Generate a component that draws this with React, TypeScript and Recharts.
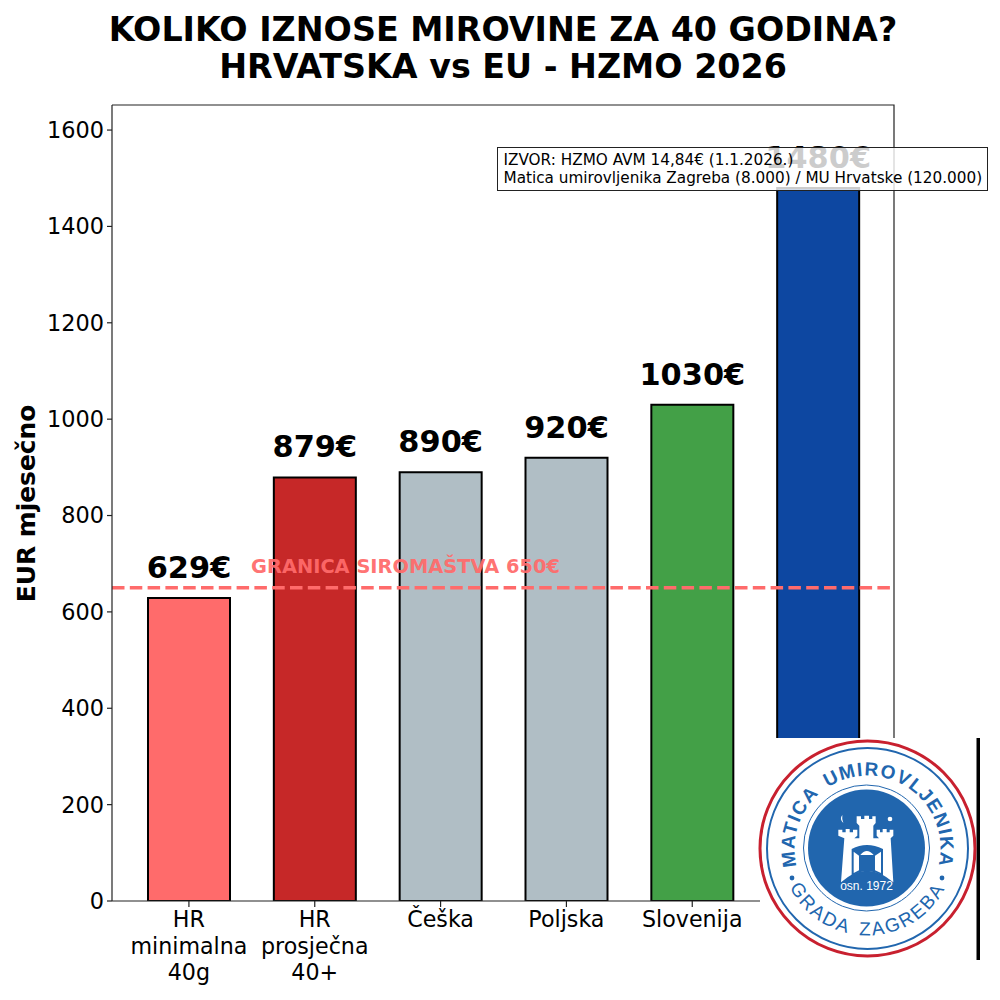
import React from 'react';
import { BarChart, Bar, XAxis, YAxis, Cell, LabelList, ReferenceLine } from 'recharts';

const categories = ['HR\nminimalna\n40g', 'HR\nprosječna\n40+', 'Češka', 'Poljska', 'Slovenija', ''];
const values = [629, 879, 890, 920, 1030, 1480];
const colors = ['#ff6b6b', '#c62828', '#b0bec5', '#b0bec5', '#43a047', '#0d47a1'];
const yTicks = [0, 200, 400, 600, 800, 1000, 1200, 1400, 1600];
const povertyLine = 650;
const povertyLabel = 'GRANICA SIROMAŠTVA 650€';
const titleLines = ['KOLIKO IZNOSE MIROVINE ZA 40 GODINA?', 'HRVATSKA vs EU - HZMO 2026'];
const sourceLines = ['IZVOR: HZMO AVM 14,84€ (1.1.2026.)', 'Matica umirovljenika Zagreba (8.000) / MU Hrvatske (120.000)'];
const data = categories.map((name, i) => ({ name, value: values[i] }));

const FONT = '"DejaVu Sans", sans-serif';
const LOGO_FONT = '"Liberation Sans", sans-serif';
const BLUE = '#2166ae';

const CategoryTick = (props: any) => {
  const { x, y, payload } = props;
  const lines = String(payload.value).split('\n');
  return (
    <g>
      <line x1={x} x2={x} y1={y - 8} y2={y - 2} stroke="#222" strokeWidth={1.2} />
      <text x={x} textAnchor="middle" fontFamily={FONT} fontSize={22.2} fill="#000">
        {lines.map((l: string, i: number) => (
          <tspan key={i} x={x} y={y + 18 + i * 26.5}>{l}</tspan>
        ))}
      </text>
    </g>
  );
};

const Logo = () => {
  const cx = 867.5;
  const cy = 848.5;
  return (
    <g>
      <rect x={760} y={738} width={217} height={222} fill="#fff" />
      <rect x={976.5} y={738} width={3.5} height={222} fill="#000" />
      <circle cx={cx} cy={cy} r={107.5} fill="#fff" stroke="#c8202f" strokeWidth={3} />
      <circle cx={cx} cy={cy} r={100.5} fill="none" stroke={BLUE} strokeWidth={2} />
      <circle cx={cx - 1} cy={cy - 0.5} r={63} fill="none" stroke={BLUE} strokeWidth={1} />
      <circle cx={cx - 1} cy={cy - 0.5} r={58.5} fill={BLUE} />
      <defs>
        <path id="logoTop" d={`M ${cx - 56} ${cy + 47} A 73 73 0 1 1 ${cx + 56} ${cy + 47}`} />
        <path id="logoBottom" d={`M ${cx - 83} ${cy + 26} A 87 87 0 0 0 ${cx + 83} ${cy + 26}`} />
      </defs>
      <text fontFamily={LOGO_FONT} fontWeight="bold" fontSize={19} fill={BLUE} letterSpacing={1.3} wordSpacing={4} textAnchor="middle">
        <textPath href="#logoTop" startOffset="50%">MATICA UMIROVLJENIKA</textPath>
      </text>
      <text fontFamily={LOGO_FONT} fontSize={19} fill={BLUE} letterSpacing={2} wordSpacing={4} textAnchor="middle">
        <textPath href="#logoBottom" startOffset="50%">GRADA ZAGREBA</textPath>
      </text>
      <circle cx={792} cy={878} r={2.4} fill={BLUE} />
      <circle cx={942} cy={878} r={2.4} fill={BLUE} />
      <g transform="translate(825,805) scale(0.3333)" fill="#fff">
        <path d="M95 34 L108 34 L108 42 L118 42 L118 32 L132 32 L132 42 L142 42 L142 34 L152 34 L152 54 L145 62 L145 100 L162 100 L155 92 L155 74 L165 74 L165 82 L173 82 L173 72 L185 72 L185 82 L194 82 L194 74 L205 74 L205 92 L197 100 L205 232 Q125 162 48 232 L58 100 L40 92 L40 74 L52 74 L52 82 L62 82 L62 72 L74 72 L74 82 L84 82 L84 74 L97 74 L97 92 L88 100 L103 100 L103 62 L95 54 Z" />
        <path d="M80 132 Q125 108 174 132 L174 212 Q125 186 80 212 Z" fill={BLUE} />
        <path d="M86 140 L102 152 L102 196 L86 204 Z" />
        <path d="M168 140 L150 152 L150 196 L168 204 Z" />
        <path d="M106 150 Q125 126 146 150 Z" />
        <circle cx={195} cy={42} r={7} />
        <path d="M52 30 Q42 42 55 54 Q50 42 52 30 Z" />
      </g>
      <text x={866.5} y={890} textAnchor="middle" fontFamily={LOGO_FONT} fontSize={12} fill="#fff">osn. 1972</text>
    </g>
  );
};

export default function App() {
  return (
    <div style={{ position: 'absolute', left: 0, top: 0, width: 1000, height: 1000, background: '#fff' }}>
      <BarChart
        width={1000}
        height={1000}
        data={data}
        margin={{ top: 105, right: 106, bottom: 0, left: 0 }}
        style={{ position: 'absolute', left: 0, top: 0 }}
      >
        <XAxis
          dataKey="name"
          height={99}
          interval={0}
          padding={{ left: 14, right: 13 }}
          axisLine={{ stroke: '#222', strokeWidth: 1.2 }}
          tickLine={false}
          tick={<CategoryTick />}
        />
        <YAxis
          width={112}
          domain={[0, 1652]}
          ticks={yTicks}
          allowDataOverflow
          tick={{ fontFamily: FONT, fontSize: 22.4, fill: '#000' }}
          axisLine={{ stroke: '#222', strokeWidth: 1.2 }}
          tickLine={{ stroke: '#222', strokeWidth: 1.2 }}
          tickSize={5}
          tickMargin={3}
        />
        <Bar dataKey="value" barSize={82} stroke="#000" strokeWidth={2} isAnimationActive={false}>
          {data.map((d, i) => (
            <Cell key={i} fill={colors[i]} />
          ))}
          <LabelList
            dataKey="value"
            position="top"
            offset={20}
            formatter={(v: any) => `${v}€`}
            style={{ fontFamily: FONT, fontWeight: 'bold', fontSize: 30.4, fill: '#000' }}
          />
        </Bar>
        <ReferenceLine
          y={povertyLine}
          stroke="#ff6b6b"
          strokeWidth={3.4}
          strokeDasharray="12.5 5.3"
          ifOverflow="visible"
        />
      </BarChart>
      <svg width={1000} height={1000} style={{ position: 'absolute', left: 0, top: 0 }}>
        <text x={405.5} y={567} textAnchor="middle" dominantBaseline="middle" fontFamily={FONT} fontWeight="bold" fontSize={19.4} fill="#ff6b6b" fillOpacity={0.95}>
          {povertyLabel}
        </text>
        <path d="M112 105 H894 V901" fill="none" stroke="#222" strokeWidth={1.2} />
        <text transform="translate(35,503.5) rotate(-90)" textAnchor="middle" fontFamily={FONT} fontWeight="bold" fontSize={24.9} fill="#000">EUR mjesečno</text>
        {titleLines.map((t, i) => (
          <text key={t} x={503} y={41 + i * 36.5} textAnchor="middle" fontFamily={FONT} fontWeight="bold" fontSize={33.3} fill="#000">{t}</text>
        ))}
        <rect x={497.5} y={147.5} width={490} height={43} fill="#fff" fillOpacity={0.8} stroke="#222" strokeWidth={1} />
        {sourceLines.map((t, i) => (
          <text key={t} x={503.5} y={164.5 + i * 18} fontFamily={FONT} fontSize={15.25} fill="#000">{t}</text>
        ))}
        <Logo />
      </svg>
    </div>
  );
}
